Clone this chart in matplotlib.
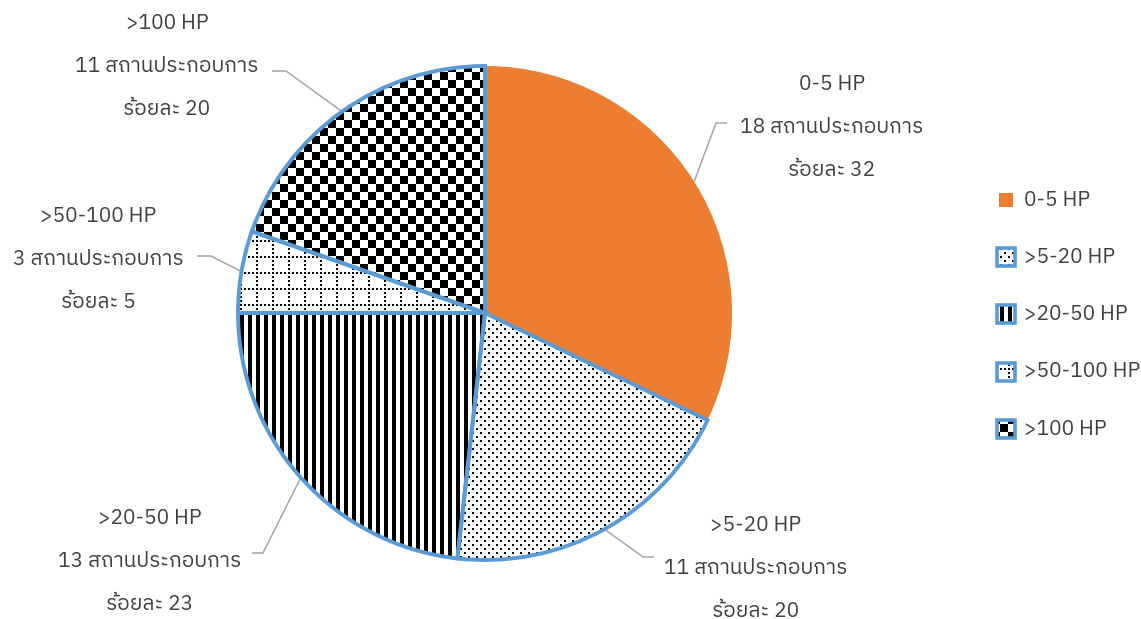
import numpy as np
import matplotlib
matplotlib.use("Agg")
import matplotlib.pyplot as plt
from matplotlib import font_manager as fm
from matplotlib.ft2font import FT2Font
from matplotlib.patches import Rectangle

# ---- data -------------------------------------------------------------
categories = ["0-5 HP", ">5-20 HP", ">20-50 HP", ">50-100 HP", ">100 HP"]
counts = [18, 11, 13, 3, 11]
percents = [32, 20, 23, 5, 20]
count_unit = "สถานประกอบการ"
percent_word = "ร้อยละ"


# ---- fonts: pick an installed family that covers Thai ------------------
def thai_family():
    probe = ord("ส")
    paths = {e.fname: e.name for e in fm.fontManager.ttflist}
    for p in fm.findSystemFonts():
        if p not in paths:
            try:
                paths[p] = fm.FontProperties(fname=p).get_name()
            except Exception:
                pass
    found = []
    for path, name in paths.items():
        try:
            if probe in FT2Font(path).get_charmap():
                found.append(name)
        except Exception:
            pass
    for name in found:
        if "Sans" in name and "Mono" not in name:
            return name
    return found[0] if found else None


fam = thai_family()
families = ([fam] if fam else []) + ["DejaVu Sans"]
plt.rcParams["font.family"] = families

TEXT = "#404040"
EDGE = "#5B9BD5"
ORANGE = "#ED7D31"
LEADER = "#A6A6A6"
FS = 15

W, H = 1141, 619
fig = plt.figure(figsize=(W / 100, H / 100), dpi=100)
ax = fig.add_axes([0, 0, 1, 1])

# ---- pixel fill patterns ----------------------------------------------
yy, xx = np.mgrid[0:H, 0:W]
pat_dots = ((yy % 8 < 2) & (xx % 8 < 2)) | (((yy + 4) % 8 < 2) & ((xx + 4) % 8 < 2))
pat_stripes = (xx % 8) < 4
pat_grid = ((yy % 16 < 2) & (xx % 4 < 2)) | ((xx % 16 < 2) & (yy % 4 < 2))
pat_checker = ((xx // 8) + (yy // 8)) % 2 == 0
patterns = [None, pat_dots, pat_stripes, pat_grid, pat_checker]


def pattern_rgb(mask):
    v = np.where(mask, 0.0, 1.0)
    return np.dstack([v, v, v])


CX, CY, R = 485, 313, 247

# base fills (y axis points down, so counterclock in data = clockwise on screen)
fill_colors = [ORANGE] + ["white"] * 4
wedges, _ = ax.pie(counts, colors=fill_colors, startangle=-90, counterclock=True,
                   center=(CX, CY), radius=R, frame=True,
                   wedgeprops=dict(linewidth=0, antialiased=True))
for w in wedges:
    w.set_zorder(1)

for w, pat in zip(wedges, patterns):
    if pat is None:
        continue
    im = ax.imshow(pattern_rgb(pat), extent=(0, W, H, 0), origin="upper",
                   interpolation="nearest", zorder=2)
    im.set_clip_path(w)

# outlines
outl, _ = ax.pie(counts, startangle=-90, counterclock=True,
                 center=(CX, CY), radius=R, frame=True,
                 wedgeprops=dict(linewidth=2.8, joinstyle="miter"))
for i, w in enumerate(outl):
    w.set_facecolor("none")
    w.set_edgecolor("none" if i == 0 else EDGE)
    w.set_zorder(4)

# ---- data labels with leader lines -----------------------------------
# (text centre x, baseline of first line, elbow point, end of leader)
label_layout = [
    (832, 90, (716, 123), (727, 123)),
    (756, 531, (643, 557), (654, 557)),
    (150, 524, (263, 553), (252, 553)),
    (98, 222, (211, 256), (197, 256)),
    (167, 29, (286, 71), (272, 71)),
]
LINE_STEP = 43

for w, cat, n, pct, (tx, ty, elbow, end) in zip(wedges, categories, counts, percents, label_layout):
    mid = np.deg2rad((w.theta1 + w.theta2) / 2)
    ax_pt = (CX + R * np.cos(mid), CY + R * np.sin(mid))
    ax.plot([ax_pt[0], elbow[0], end[0]], [ax_pt[1], elbow[1], end[1]],
            color=LEADER, lw=1.1, zorder=3, solid_capstyle="butt")
    lines = [cat, f"{n} {count_unit}", f"{percent_word} {pct}"]
    for k, s in enumerate(lines):
        ax.text(tx, ty + k * LINE_STEP, s, ha="center", va="baseline",
                fontsize=FS, color=TEXT, zorder=5)

# ---- legend -----------------------------------------------------------
leg_x = 1006
leg_y0, leg_step = 200, 57.2
for i, (cat, pat) in enumerate(zip(categories, patterns)):
    y = leg_y0 + i * leg_step
    if pat is None:
        ax.add_patch(Rectangle((leg_x - 7, y - 7), 14, 14, facecolor=ORANGE,
                               edgecolor="none", zorder=4))
    else:
        box = Rectangle((leg_x - 9, y - 9), 18, 18, facecolor="white",
                        edgecolor="none", zorder=3)
        ax.add_patch(box)
        im = ax.imshow(pattern_rgb(pat), extent=(0, W, H, 0), origin="upper",
                       interpolation="nearest", zorder=3.5)
        im.set_clip_path(box)
        ax.add_patch(Rectangle((leg_x - 9, y - 9), 18, 18, facecolor="none",
                               edgecolor=EDGE, lw=2.6, zorder=4))
    ax.text(1024, y, cat, ha="left", va="center", fontsize=FS, color=TEXT)

ax.set_xlim(0, W)
ax.set_ylim(H, 0)
ax.set_aspect("auto")
ax.axis("off")

fig.savefig("out.png", dpi=100, facecolor="white")
